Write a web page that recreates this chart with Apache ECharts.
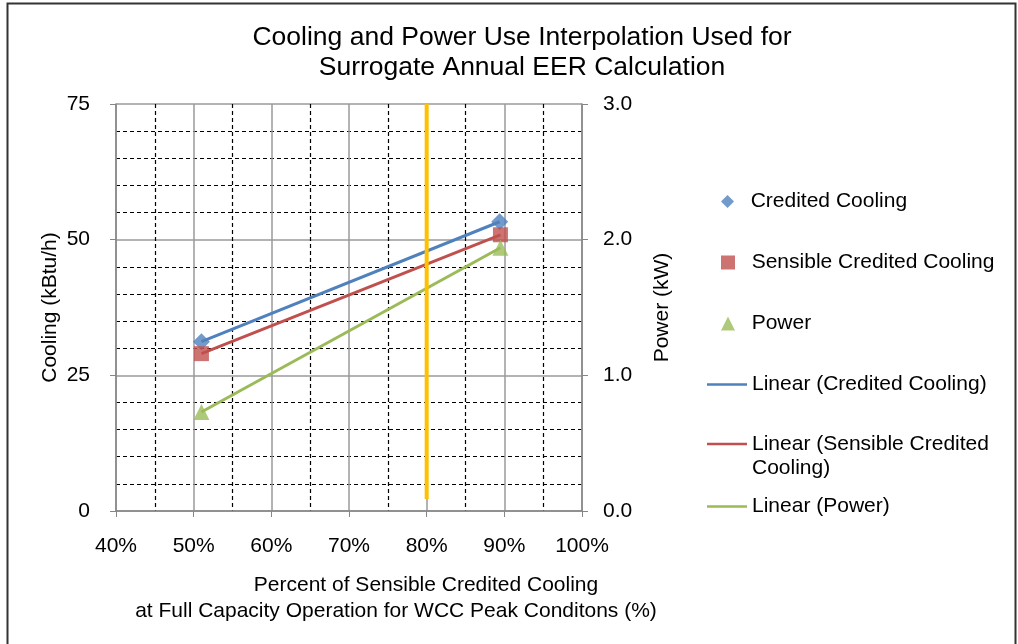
<!DOCTYPE html>
<html>
<head>
<meta charset="utf-8">
<script src="https://cdn.jsdelivr.net/npm/echarts@6/dist/echarts.min.js"></script>
<style>html,body{margin:0;padding:0;background:#fff;}#c{width:1018px;height:644px;}</style>
</head>
<body>
<div id="c"></div>
<script>
// Data
const xPct = [0.510, 0.894];                 // percent of sensible credited cooling
const creditedCooling = [31.2, 53.3];        // kBtu/h
const xPctSensible = [0.510, 0.895];
const sensibleCooling = [29.0, 50.9];        // kBtu/h
const xPctPower = [0.510, 0.895];
const power = [0.73, 1.94];                  // kW
const peakLineX = [0.80, 0.80];
const peakLineY = [2.2, 75];                 // kBtu/h extents of the 80% marker line

const FONT = 'Liberation Sans, Arial, sans-serif';
const FS = 21;
const pts = (xs, ys) => xs.map((x, i) => [x, ys[i]]);
const txt = {fontFamily: FONT, fontSize: FS, color: '#000'};
const lineIcon = 'path://M0,6 L44,6 L44,9 L0,9 Z';
const pad = n => '  ' + n;

const chart = echarts.init(document.getElementById('c'));

chart.setOption({
  animation: false,
  backgroundColor: '#fff',
  title: {
    text: 'Cooling and Power Use Interpolation Used for\nSurrogate Annual EER Calculation',
    left: 517, top: 18, textAlign: 'center',
    textStyle: {fontFamily: FONT, fontSize: 26.5, fontWeight: 'normal', color: '#000', lineHeight: 30}
  },
  graphic: [{
    type: 'rect', shape: {x: 7.5, y: 3.5, width: 1008, height: 700},
    style: {fill: 'none', stroke: '#333', lineWidth: 2}, silent: true
  }],
  legend: [
    {data: [{name: 'Credited Cooling', icon: 'diamond'}], left: 716, top: 186, itemWidth: 13, itemHeight: 13,
     itemGap: 0, formatter: pad, textStyle: txt, selectedMode: false},
    {data: [{name: 'Sensible Credited Cooling', icon: 'rect'}], left: 716, top: 247, itemWidth: 14, itemHeight: 14,
     itemGap: 0, formatter: pad, textStyle: txt, selectedMode: false},
    {data: [{name: 'Power', icon: 'triangle'}], left: 716, top: 308, itemWidth: 14, itemHeight: 14,
     itemGap: 0, formatter: pad, textStyle: txt, selectedMode: false},
    {data: [{name: 'Linear (Credited Cooling)', icon: lineIcon}], left: 702, top: 369, itemWidth: 40, itemHeight: 14,
     itemGap: 0, textStyle: txt, selectedMode: false},
    {data: [{name: 'Linear (Sensible Credited Cooling)', icon: lineIcon}], left: 702, top: 403, itemWidth: 40, itemHeight: 14,
     itemGap: 0, formatter: () => '\nLinear (Sensible Credited\nCooling)',
     textStyle: Object.assign({lineHeight: 24}, txt), selectedMode: false},
    {data: [{name: 'Linear (Power)', icon: lineIcon}], left: 702, top: 491, itemWidth: 40, itemHeight: 14,
     itemGap: 0, textStyle: txt, selectedMode: false}
  ],
  grid: {left: 116, right: 436, top: 104, bottom: 133, containLabel: false},
  xAxis: {
    type: 'value', min: 0.4, max: 1.0, interval: 0.1,
    name: '{a|Percent of Sensible Credited Cooling}\n{b|at Full Capacity Operation for WCC Peak Conditons (%)}',
    nameLocation: 'middle', nameGap: 61,
    nameTextStyle: {
      fontFamily: FONT, fontSize: FS, color: '#000', lineHeight: 26, padding: [0, 0, 0, 94],
      rich: {a: {fontFamily: FONT, fontSize: FS, color: '#000', lineHeight: 26, padding: [0, 0, 0, 60]},
             b: {fontFamily: FONT, fontSize: FS, color: '#000', lineHeight: 26}}
    },
    axisLine: {show: true, onZero: false, lineStyle: {color: '#868686', width: 1.5}},
    axisTick: {show: true, inside: false, length: 6, lineStyle: {color: '#868686'}},
    axisLabel: {fontFamily: FONT, fontSize: FS, color: '#000', margin: 25,
      formatter: v => Math.round(v * 100) + '%'},
    splitLine: {show: true, lineStyle: {color: '#9a9a9a', width: 1.5}},
    minorTick: {show: false, splitNumber: 2},
    minorSplitLine: {show: true, lineStyle: {color: '#000', type: [4, 3], width: 1.2}}
  },
  yAxis: [{
    type: 'value', min: 0, max: 75, interval: 25,
    name: 'Cooling (kBtu/h)', nameLocation: 'middle', nameGap: 55,
    nameTextStyle: {fontFamily: FONT, fontSize: FS, color: '#000'},
    axisLine: {show: true, lineStyle: {color: '#868686', width: 1.5}},
    axisTick: {show: true, length: 6, lineStyle: {color: '#868686'}},
    axisLabel: {fontFamily: FONT, fontSize: FS, color: '#000', margin: 26},
    splitLine: {show: true, lineStyle: {color: '#9a9a9a', width: 1.5}},
    minorTick: {show: false, splitNumber: 5},
    minorSplitLine: {show: true, lineStyle: {color: '#000', type: [4, 3], width: 1.2}}
  }, {
    type: 'value', min: 0, max: 3, interval: 1, position: 'right',
    name: 'Power (kW)', nameLocation: 'middle', nameGap: 70,
    nameTextStyle: {fontFamily: FONT, fontSize: FS, color: '#000'},
    axisLine: {show: true, lineStyle: {color: '#868686', width: 1.5}},
    axisTick: {show: true, length: 6, lineStyle: {color: '#868686'}},
    axisLabel: {fontFamily: FONT, fontSize: FS, color: '#000', margin: 21, formatter: v => v.toFixed(1)},
    splitLine: {show: false}
  }],
  series: [
    {name: 'Linear (Credited Cooling)', type: 'line', yAxisIndex: 0, data: pts(xPct, creditedCooling),
     showSymbol: false, symbol: 'none', color: '#4F81BD', lineStyle: {width: 3, color: '#4F81BD'}, z: 3},
    {name: 'Linear (Sensible Credited Cooling)', type: 'line', yAxisIndex: 0, data: pts(xPctSensible, sensibleCooling),
     showSymbol: false, symbol: 'none', color: '#C0504D', lineStyle: {width: 3, color: '#C0504D'}, z: 3},
    {name: 'Linear (Power)', type: 'line', yAxisIndex: 1, data: pts(xPctPower, power),
     showSymbol: false, symbol: 'none', color: '#9BBB59', lineStyle: {width: 3, color: '#9BBB59'}, z: 3},
    {name: 'peak', type: 'line', yAxisIndex: 0, data: pts(peakLineX, peakLineY),
     showSymbol: false, symbol: 'none', lineStyle: {width: 4, color: '#FFC000'}, z: 4},
    {name: 'Credited Cooling', type: 'scatter', yAxisIndex: 0, data: pts(xPct, creditedCooling),
     symbol: 'diamond', symbolSize: 17, itemStyle: {color: '#4F81BD'}, z: 5},
    {name: 'Sensible Credited Cooling', type: 'scatter', yAxisIndex: 0, data: pts(xPctSensible, sensibleCooling),
     symbol: 'rect', symbolSize: 15, itemStyle: {color: '#C0504D'}, z: 5},
    {name: 'Power', type: 'scatter', yAxisIndex: 1, data: pts(xPctPower, power),
     symbol: 'triangle', symbolSize: 16, itemStyle: {color: '#9BBB59'}, z: 5}
  ]
});
</script>
</body>
</html>
